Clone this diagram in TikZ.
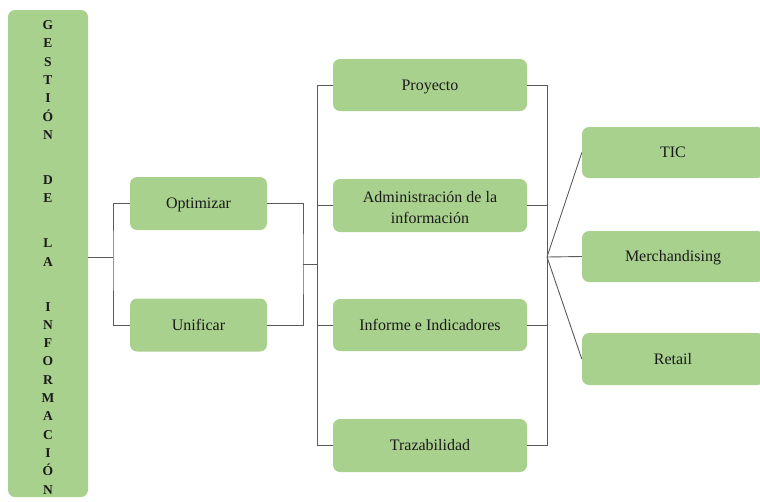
\documentclass[tikz,border=0pt]{standalone}
\usepackage{fontspec}
\setmainfont{Liberation Serif}
\definecolor{boxgreen}{HTML}{A9D18E}
\definecolor{linegray}{HTML}{5A5A5A}
\definecolor{textdark}{HTML}{1A1A1A}
\tikzset{
  gbox/.style={rectangle, rounded corners=7pt, fill=boxgreen, draw=none,
    minimum width=194pt, minimum height=52pt, inner sep=2pt, align=center,
    text=textdark, font=\fontsize{16}{20.5}\selectfont},
  onebox/.style={gbox, text height=14pt, text depth=3.5pt},
  conn/.style={draw=linegray, line width=0.9pt}
}
\begin{document}
\begin{tikzpicture}[x=1pt,y=-1pt]
\useasboundingbox (0,0) rectangle (760,501);
\begin{scope}
\clip (0,0) rectangle (760,501);
% left tall box
\node[gbox, minimum width=80pt, minimum height=487pt] (gest) at (48,253.5) {};
\node[text=textdark, font=\fontsize{13.5}{18.3}\selectfont\bfseries, align=center, anchor=north, inner sep=0pt]
  (gesttext) at (48,20.5)
  {G\\E\\S\\T\\I\\Ó\\N\\[26.7pt]D\\E\\[26.7pt]L\\A\\[26.7pt]I\\N\\F\\O\\R\\M\\A\\C\\I\\Ó\\N};
% second column
\node[onebox, minimum width=137pt, minimum height=53pt] (opt) at (198.5,203.5) {Optimizar};
\node[onebox, minimum width=137pt, minimum height=53pt] (uni) at (198.5,325) {Unificar};
% third column
\node[onebox] (proy) at (430,85) {Proyecto};
\node[gbox, minimum height=53pt] (admin) at (430,205.5) {\rule{0pt}{15.5pt}Administración de la\\información};
\node[onebox] (inf) at (430,325) {Informe e Indicadores};
\node[onebox, minimum height=53pt] (traz) at (430,445.5) {Trazabilidad};
% fourth column
\node[onebox, minimum width=182pt, minimum height=51pt] (tic) at (673,152.5) {TIC};
\node[onebox, minimum width=182pt, minimum height=51pt] (merch) at (673,256.5) {Merchandising};
\node[onebox, minimum width=182pt, minimum height=52pt] (ret) at (673,359) {Retail};
% junctions
\coordinate (j1) at (113,257);
\coordinate (j2) at (303,264);
\coordinate (j3) at (317,264);
\coordinate (j4) at (547,257);
% connectors
\draw[conn] (gest.east |- j1) -- (j1);
\draw[conn] (opt.west) -| (j1) |- (uni.west);
\draw[conn] (opt.east) -| (j2) |- (uni.east);
\draw[conn] (j2) -- (j3);
\draw[conn] (proy.west) -| (j3 |- traz.west) -- (traz.west);
\draw[conn] (admin.west) -- (admin.west -| j3);
\draw[conn] (inf.west) -- (inf.west -| j3);
\draw[conn] (proy.east) -| (j4 |- traz.east) -- (traz.east);
\draw[conn] (admin.east) -- (admin.east -| j4);
\draw[conn] (inf.east) -- (inf.east -| j4);
\draw[conn] (j4) -- (tic.west);
\draw[conn] (j4) -- (merch.west);
\draw[conn] (j4) -- (ret.west);
\end{scope}
\end{tikzpicture}
\end{document}
